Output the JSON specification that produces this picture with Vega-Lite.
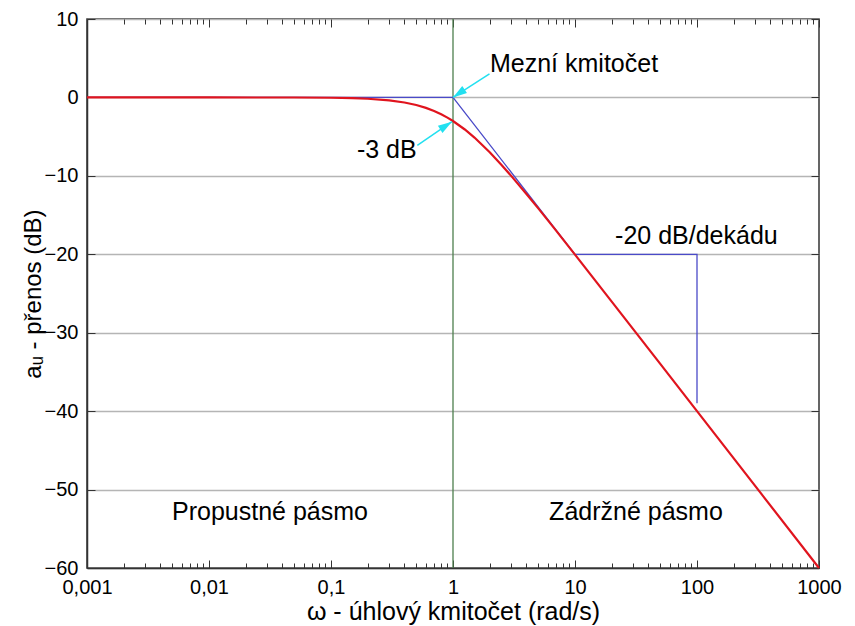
{
  "$schema": "https://vega.github.io/schema/vega-lite/v6.json",
  "width": 732,
  "height": 549,
  "autosize": {"type": "none"},
  "padding": {"left": 87, "top": 19, "right": 36, "bottom": 58},
  "background": "white",
  "config": {
    "font": "Liberation Sans",
    "view": {"stroke": "#333333", "strokeWidth": 1.5},
    "axis": {
      "domainColor": "#333333",
      "domainWidth": 1.5,
      "gridColor": "#b5b5b5",
      "gridWidth": 1.5,
      "tickColor": "#333333",
      "tickWidth": 1,
      "labelColor": "black",
      "labelFont": "Liberation Sans",
      "labelFontSize": 20,
      "titleFont": "Liberation Sans",
      "titleFontSize": 25,
      "titleFontWeight": "normal",
      "titleColor": "black"
    }
  },
  "layer": [
    {
      "data": {"values": [{"w": 1}]},
      "mark": {"type": "rule", "color": "#4d7f4d", "strokeWidth": 1.3},
      "encoding": {
        "x": {
          "field": "w", "type": "quantitative",
          "scale": {"type": "log", "domain": [0.001, 1000], "nice": false},
          "axis": null
        }
      }
    },
    {
      "data": {"values": [
        {"w": 0.001, "db": 0, "o": 1},
        {"w": 1, "db": 0, "o": 2},
        {"w": 10, "db": -20, "o": 3},
        {"w": 100, "db": -20, "o": 4},
        {"w": 100, "db": -39, "o": 5}
      ]},
      "mark": {"type": "line", "color": "#4a4ac8", "strokeWidth": 1.3},
      "encoding": {
        "x": {
          "field": "w", "type": "quantitative",
          "axis": {
            "title": "ω - úhlový kmitočet (rad/s)",
            "titlePadding": -1,
            "values": [0.001,0.002,0.003,0.004,0.005,0.006,0.007,0.008,0.009,0.01,0.02,0.03,0.04,0.05,0.06,0.07,0.08,0.09,0.1,0.2,0.3,0.4,0.5,0.6,0.7,0.8,0.9,1,2,3,4,5,6,7,8,9,10,20,30,40,50,60,70,80,90,100,200,300,400,500,600,700,800,900,1000],
            "labelExpr": "abs(log(datum.value)/LN10 - round(log(datum.value)/LN10)) < 0.000001 ? replace(format(datum.value, '~g'), '.', ',') : ''",
            "labelPadding": 17,
            "labelFlush": false,
            "labelOverlap": false,
            "gridOpacity": {"condition": {"test": "abs(log(datum.value)/LN10 - round(log(datum.value)/LN10)) < 0.000001", "value": 1}, "value": 0},
            "tickSize": {"condition": {"test": "abs(log(datum.value)/LN10 - round(log(datum.value)/LN10)) < 0.000001", "value": -8}, "value": -5}
          }
        },
        "y": {
          "field": "db", "type": "quantitative",
          "scale": {"domain": [-60, 10], "nice": false},
          "axis": {
            "title": "aᵤ - přenos (dB)",
            "titleFontSize": 24,
            "values": [-60, -50, -40, -30, -20, -10, 0, 10],
            "titlePadding": -1,
            "labelPadding": 17,
            "tickSize": -8,
            "labelFlush": false
          }
        },
        "order": {"field": "o", "type": "quantitative"}
      }
    },
    {
      "data": {"values": [
        {"w": 0.001, "db": 0},
        {"w": 0.01, "db": -0.0004},
        {"w": 0.05, "db": -0.011},
        {"w": 0.1, "db": -0.043},
        {"w": 0.15, "db": -0.097},
        {"w": 0.2, "db": -0.170},
        {"w": 0.3, "db": -0.374},
        {"w": 0.4, "db": -0.645},
        {"w": 0.5, "db": -0.969},
        {"w": 0.6, "db": -1.335},
        {"w": 0.7, "db": -1.732},
        {"w": 0.8, "db": -2.148},
        {"w": 0.9, "db": -2.577},
        {"w": 1, "db": -3.010},
        {"w": 1.25, "db": -4.087},
        {"w": 1.5, "db": -5.119},
        {"w": 2, "db": -6.990},
        {"w": 2.5, "db": -8.603},
        {"w": 3, "db": -10.0},
        {"w": 4, "db": -12.304},
        {"w": 5, "db": -14.150},
        {"w": 6, "db": -15.682},
        {"w": 7, "db": -16.990},
        {"w": 8, "db": -18.129},
        {"w": 10, "db": -20.043},
        {"w": 20, "db": -26.03},
        {"w": 50, "db": -33.98},
        {"w": 100, "db": -40.0},
        {"w": 1000, "db": -60.0}
      ]},
      "mark": {"type": "line", "color": "#e0141e", "strokeWidth": 2.2},
      "encoding": {
        "x": {"field": "w", "type": "quantitative", "axis": null},
        "y": {"field": "db", "type": "quantitative", "axis": null}
      }
    },
    {
      "data": {"values": [
        {"a": "m", "w": 1.99, "db": 3.0},
        {"a": "m", "w": 1.0, "db": 0},
        {"a": "d", "w": 0.51, "db": -6.1},
        {"a": "d", "w": 0.98, "db": -3.1}
      ]},
      "mark": {"type": "line", "color": "#22e0f0", "strokeWidth": 1.5},
      "encoding": {
        "x": {"field": "w", "type": "quantitative", "axis": null},
        "y": {"field": "db", "type": "quantitative", "axis": null},
        "detail": {"field": "a"}
      }
    },
    {
      "data": {"values": [
        {"w": 1.0, "db": 0, "ang": 236},
        {"w": 0.98, "db": -3.1, "ang": 57}
      ]},
      "mark": {"type": "point", "filled": true, "color": "#22e0f0", "opacity": 1, "size": 784, "shape": "M0,0L-0.3,1L0.3,1Z"},
      "encoding": {
        "x": {"field": "w", "type": "quantitative", "axis": null},
        "y": {"field": "db", "type": "quantitative", "axis": null},
        "angle": {"field": "ang", "type": "quantitative", "scale": null}
      }
    },
    {
      "data": {"values": [
        {"w": 2.01, "db": 3.19, "t": "Mezní kmitočet"},
        {"w": 0.163, "db": -7.69, "t": "-3 dB"},
        {"w": 21.3, "db": -18.75, "t": "-20 dB/dekádu"}
      ]},
      "mark": {"type": "text", "fontSize": 25, "color": "black", "align": "left", "baseline": "alphabetic", "font": "Liberation Sans"},
      "encoding": {
        "x": {"field": "w", "type": "quantitative", "axis": null},
        "y": {"field": "db", "type": "quantitative", "axis": null},
        "text": {"field": "t"}
      }
    },
    {
      "data": {"values": [
        {"w": 0.0316, "db": -53.87, "t": "Propustné pásmo"},
        {"w": 31.6, "db": -53.87, "t": "Zádržné pásmo"}
      ]},
      "mark": {"type": "text", "fontSize": 25, "color": "black", "align": "center", "baseline": "alphabetic", "font": "Liberation Sans"},
      "encoding": {
        "x": {"field": "w", "type": "quantitative", "axis": null},
        "y": {"field": "db", "type": "quantitative", "axis": null},
        "text": {"field": "t"}
      }
    },
    {
      "data": {"values": [{"v": 1, "d": 0}]},
      "mark": {"type": "point", "opacity": 0},
      "encoding": {
        "x": {
          "field": "v", "type": "quantitative",
          "axis": {
            "orient": "top", "title": null, "labels": false, "grid": false, "domain": false,
            "values": [0.001,0.002,0.003,0.004,0.005,0.006,0.007,0.008,0.009,0.01,0.02,0.03,0.04,0.05,0.06,0.07,0.08,0.09,0.1,0.2,0.3,0.4,0.5,0.6,0.7,0.8,0.9,1,2,3,4,5,6,7,8,9,10,20,30,40,50,60,70,80,90,100,200,300,400,500,600,700,800,900,1000],
            "tickSize": {"condition": {"test": "abs(log(datum.value)/LN10 - round(log(datum.value)/LN10)) < 0.000001", "value": -8}, "value": -5}
          }
        },
        "y": {
          "field": "d", "type": "quantitative",
          "axis": {
            "orient": "right", "title": null, "labels": false, "grid": false, "domain": false,
            "values": [-60, -50, -40, -30, -20, -10, 0, 10],
            "tickSize": -8
          }
        }
      }
    }
  ],
  "resolve": {"axis": {"x": "independent", "y": "independent"}}
}
